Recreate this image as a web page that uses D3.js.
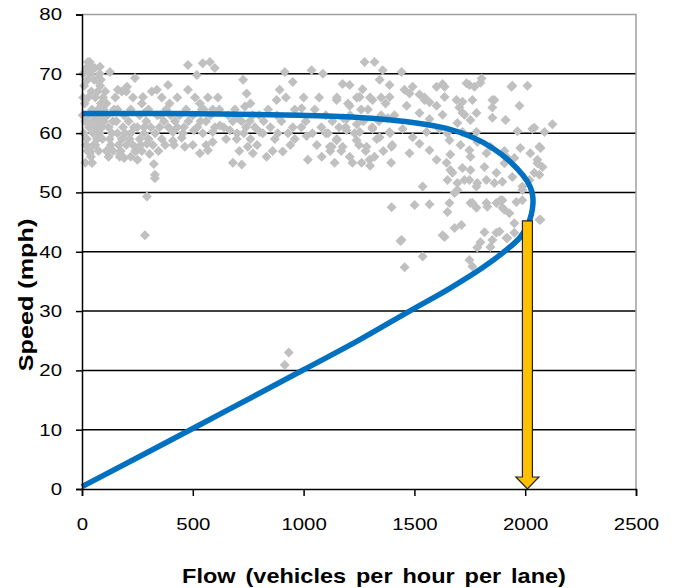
<!DOCTYPE html>
<html>
<head>
<meta charset="utf-8">
<script src="https://cdn.jsdelivr.net/npm/d3@7"></script>
<style>
  body { margin: 0; background: #fff; }
  text { font-family: "Liberation Sans", Arial, sans-serif; }
</style>
</head>
<body>
<svg id="chart" width="677" height="588"></svg>
<script>
// observed detector data: [flow (veh/h/lane), speed (mph)]
const observed = [
  [5,70],[10,68],[12,65],[15,62],[8,60],[18,58],[20,71],[25,69],[28,66],[30,63],[32,61],[22,59],[35,57],[40,56],
  [38,70],[42,67],[45,64],[48,62],[50,60],[52,58],[55,69],[58,71],[60,66],[62,63],[65,61],[68,59],[70,67],[72,64],
  [75,62],[78,60],[80,70],[82,68],[85,65],[88,63],[90,61],[92,59],[95,66],[98,64],[100,62],[15,55],[25,57],[45,55],
  [60,58],[75,57],[5,66],[3,63],[35,72],[50,71],[65,69],[85,69],[27,72],[81,71.2],[36,56.6],[45,55],
  [105,67],[110,65],[115,63],[120,61],[125,59],[130,58],[135,60],[140,62],[145,64],[150,66],[155,62],[160,60],
  [165,58],[170,56],[175,57],[180,59],[185,61],[190,63],[195,60],[200,58],[110,57],[120,56],[140,57],[160,64],
  [180,67],[200,67],[190,55.8],[126,70.3],[162,67.3],[117,57.1],[171,56.4],[203,67.8],
  [210,62],[220,60],[230,58],[240,57],[250,61],[260,59],[270,57],[280,60],[290,62],[300,59],[310,61],[320,58],
  [330,60],[340,63],[350,61],[360,59],[370,62],[380,64],[390,61],[400,63],[239,69.3],[275,66.1],[338,67.3],
  [388,68.1],[248,57.1],[293,58.2],[293,49.3],[284,42.8],[329,53],[329,52.4],[324,54.8],[220,64],[260,63],
  [300,64],[360,66],[410,60.2],[410,58.7],[220,56],[250,55.5],[270,65],[315,67],[230,66],[280,61],[345,57],
  [375,58],[395,65],[215,59],[265,58],[305,56.5],[355,63],[235,61],[285,63.5],
  [450,59.2],[464,57.7],[500,58],[532,56.6],[568,57.1],[478,71.5],[518,69.8],[545,71.8],[577,72],[599,71],
  [478,67.3],[532,65],[568,66],[613,66],[590,60.2],[420,62],[440,63],[460,61],[480,62],[500,63],[520,61],
  [540,64],[560,62],[580,63],[600,61],[430,66],[470,64],[510,66],[550,64],[590,64],[415,58],[545,60],[560,58],
  [590,58.5],[430,61],[455,60],[505,60.5],[535,62],
  [622,61.3],[667,60.5],[698,59],[748,57.7],[757,62],[802,60.2],[681,55],[721,54.7],[771,56.6],[727,69],
  [743,66.7],[735,64.5],[640,61],[660,63],[680,62],[700,60],[720,62],[740,61],[760,59],[780,61],[800,63],
  [650,59],[690,64],[710,57],[730,60],[770,63],[790,58],[620,64],[705,62.5],[760,65],
  [833,56],[906,56.9],[1019,55.5],[1082,56],[1127,57.7],[883,60],[951,61],[1014,59.5],[816,60],[878,65.6],
  [892,67.3],[915,70.3],[951,68.6],[1036,70.6],[1087,70],[991,64.2],[820,62],[850,61],[870,59],[900,62],
  [930,60],[960,59],[990,61],[1010,62],[1040,60],[1060,58],[1080,61],[1100,63],[840,64],[880,63],[920,66],
  [960,64],[1000,66],[1050,64],[1100,60],[860,57],[940,58],[1070,66],[915,20.9],[933,23],
  [1110,60],[1130,62],[1150,59],[1170,57],[1190,61],[1210,63],[1230,60],[1250,58],[1270,62],[1290,64],
  [1310,61],[1330,59],[1350,63],[1370,65],[1390,60],[1176,68.3],[1208,68.1],[1266,67.4],[1275,72],[1320,72],
  [1357,70.6],[1343,69],[1388,68.1],[1150,66],[1200,65],[1240,66],[1280,57],[1320,56],[1360,57],[1400,58],
  [1140,55],[1220,55],[1300,54.5],[1180,62.5],[1260,64],[1340,62],[1380,62.5],[1120,57],[1160,61],[1240,61.5],
  [1300,66],[1350,66],[1395,55],[1410,63],
  [1176,57.7],[1208,56],[1262,55],[1298,55.5],[1239,58.8],[1343,59.3],[1397,57.7],[1478,56.6],[1523,58.2],
  [1568,57.1],[1600,55.5],[1645,55],[1672,53.3],[1717,54.1],[1748,52.1],[1780,51],[1825,52.1],[1870,53.3],
  [1897,51.8],[1942,52.6],[1987,51],[2019,52.1],[1915,56],[1825,56.6],[1748,57.1],[1780,60.2],[1717,60.2],
  [1658,58.8],[1613,60.7],[1555,60.2],[1492,59.3],[1447,60.7],[1388,60.2],[1311,60.7],[1253,60.2],[1194,60.5],
  [1149,58.8],[1284,57.7],[1118,57.7],
  [1523,63.4],[1465,64.6],[1568,62.4],[1600,67.8],[1546,65.6],[1703,64.3],[1478,66.7],[1388,66.1],[1311,65.6],
  [1253,66.1],[1208,64.6],[1149,65.6],[1194,62.4],
  [1442,70.3],[1455,67.3],[1492,67.8],[1523,66.5],[1546,66],[1568,65.2],[1627,68.3],[1636,67.8],[1600,64.6],
  [1690,65.6],[1735,68.4],[1771,67.8],[1803,69.2],[1762,65.6],[1717,63.4],[1780,63.4],[1852,65.6],[1852,64.3],
  [1938,67.8],[2010,68],[1974,64.6],[2123,61.5],[2087,60.2],[2032,60.7],[2064,57.7],[2055,55.5],[2078,54.3],
  [2064,53],
  [1748,68.1],[1798,68.5],[1942,68],[1861,65.6],[1717,65.3],[1636,66.1],[1726,63.1],[1627,63.1],[1852,62.6],
  [1911,62.2],[2041,60.9],[1965,60.3],[1753,62.2],[1694,61.7],[1649,60],[1708,58],[1784,58.5],[1843,57.7],
  [1906,57],[1978,57.5],[2023,56.6],[2069,57.5],[1951,55.8],[1753,56],[1662,56.4],
  [1537,51],[1397,47.5],[1501,47.9],[1568,48],[1694,51.6],[1681,49.9],[1658,48.2],[1649,46.7],[1442,42],
  [1636,42.5],[1681,44],[1712,44.5],[1762,48.2],[1780,47.4],[1816,43.3],[1825,48.2],[1870,48.2],[1897,47.4],
  [1897,48.7],[1929,46.5],[1960,48.4],[1987,48.7],[2064,45.4],[1951,43.2],[1915,42.3],[1870,43.2],[1852,42],
  [1437,41.8],[1537,39.2],[1456,37.4],[1627,42.8],[1753,48.2],[1829,47.6],[1888,48.7],[1906,47.1],[1884,43.4],
  [1920,42.3],[1798,41.6],[1784,40.7],[1748,38.6],[1762,37.5],[1843,40.8],[1951,44.8],[2069,45.4],[1987,50.4],
  [1694,50.4],[1726,52.1],[1784,51.6],[1861,51.6],[1649,52.1],[1662,53.8],[1753,53.8],[1816,54.3],[1906,54.9],
  [2055,54.9],[2041,53.3]
];

// fitted speed-flow curve, traced from congested branch up through capacity to free flow
const curveFlow  = [0, 500, 1000, 1250, 1478, 1658, 1807, 1915, 1974, 2008, 2027, 2035, 2033, 2022, 1990, 1929, 1852, 1762, 1645, 1492, 1343, 1163, 982, 700, 400, 0];
const curveSpeed = [0.4, 10.2, 20.1, 25.1, 30, 33.8, 37.3, 40.3, 42.3, 44.2, 46.2, 48.1, 49.6, 51.0, 52.9, 55.3, 57.5, 59.3, 60.8, 61.8, 62.4, 62.8, 63.0, 63.2, 63.3, 63.3];

// capacity marker
const capacityFlow = 2010;
const capacitySpeed = 45.2;

const xTicks = [0, 500, 1000, 1500, 2000, 2500];
const yTicks = [0, 10, 20, 30, 40, 50, 60, 70, 80];

const svg = d3.select("#chart");
const m = { left: 82, right: 41, top: 14.5, bottom: 99 };
const W = 677, H = 588;
const stretch = 1.2; // labels in the source look horizontally widened

const x = d3.scaleLinear().domain([0, 2500]).range([m.left, W - m.right]);
const y = d3.scaleLinear().domain([0, 80]).range([H - m.bottom, m.top]);

// gridlines
svg.append("g")
  .selectAll("line")
  .data(yTicks.filter(t => t > 0 && t < 80))
  .enter().append("line")
  .attr("x1", x(0)).attr("x2", x(2500))
  .attr("y1", d => y(d)).attr("y2", d => y(d))
  .attr("stroke", "#000").attr("stroke-width", 1.5);

// plot border (top/right in gray)
svg.append("path")
  .attr("d", `M${x(0)},${y(80)}H${x(2500)}V${y(0)}`)
  .attr("fill", "none").attr("stroke", "#a0a0a0").attr("stroke-width", 1.5);

// observations
svg.append("g")
  .selectAll("path")
  .data(observed)
  .enter().append("path")
  .attr("d", "M0,-5L5,0L0,5L-5,0Z")
  .attr("transform", d => `translate(${x(d[0])},${y(d[1])})`)
  .attr("fill", "#c0c0c0");

// fitted curve
const line = d3.line()
  .x(i => x(curveFlow[i]))
  .y(i => y(curveSpeed[i]))
  .curve(d3.curveCatmullRom.alpha(0.5));

svg.append("path")
  .attr("d", line(d3.range(curveFlow.length)))
  .attr("fill", "none")
  .attr("stroke", "#0070c0")
  .attr("stroke-width", 5.5);

// capacity arrow
const ax = x(capacityFlow), aTop = y(capacitySpeed), aBot = y(0);
const sw = 5, hw = 11.5, hh = 12;
svg.append("path")
  .attr("d", `M${ax - sw},${aTop}H${ax + sw}V${aBot - hh}H${ax + hw}L${ax},${aBot}L${ax - hw},${aBot - hh}H${ax - sw}Z`)
  .attr("fill", "#ffc000")
  .attr("stroke", "#222")
  .attr("stroke-width", 1.2);

// y axis
const yAxis = svg.append("g").attr("transform", `translate(${m.left},0)`)
  .call(d3.axisLeft(y).tickValues(yTicks).tickSize(6).tickPadding(14));
yAxis.select(".domain").attr("stroke", "#000").attr("stroke-width", 1.5);
yAxis.selectAll(".tick line").attr("stroke", "#000").attr("stroke-width", 1.5);
yAxis.selectAll(".tick text")
  .attr("font-size", 17).attr("fill", "#000")
  .attr("font-family", "Liberation Sans, Arial, sans-serif")
  .attr("x", -20 / stretch)
  .attr("transform", `scale(${stretch},1)`);

// x axis
const xAxis = svg.append("g").attr("transform", `translate(0,${H - m.bottom})`)
  .call(d3.axisBottom(x).tickValues(xTicks).tickFormat(d3.format("d")).tickSize(7).tickPadding(22));
xAxis.select(".domain").attr("stroke", "#000").attr("stroke-width", 1.5);
xAxis.selectAll(".tick line").attr("stroke", "#000").attr("stroke-width", 1.5);
xAxis.selectAll(".tick text")
  .attr("font-size", 17).attr("fill", "#000")
  .attr("font-family", "Liberation Sans, Arial, sans-serif")
  .attr("transform", `scale(${stretch},1)`);

// axis titles
svg.append("text")
  .attr("transform", "translate(374,583) scale(1.12,1)")
  .attr("text-anchor", "middle")
  .attr("font-size", 21).attr("font-weight", "bold")
  .attr("word-spacing", 3)
  .text("Flow (vehicles per hour per lane)");

svg.append("text")
  .attr("transform", "translate(33,295) rotate(-90) scale(1.2,1)")
  .attr("text-anchor", "middle")
  .attr("font-size", 21).attr("font-weight", "bold")
  .text("Speed (mph)");
</script>
</body>
</html>
